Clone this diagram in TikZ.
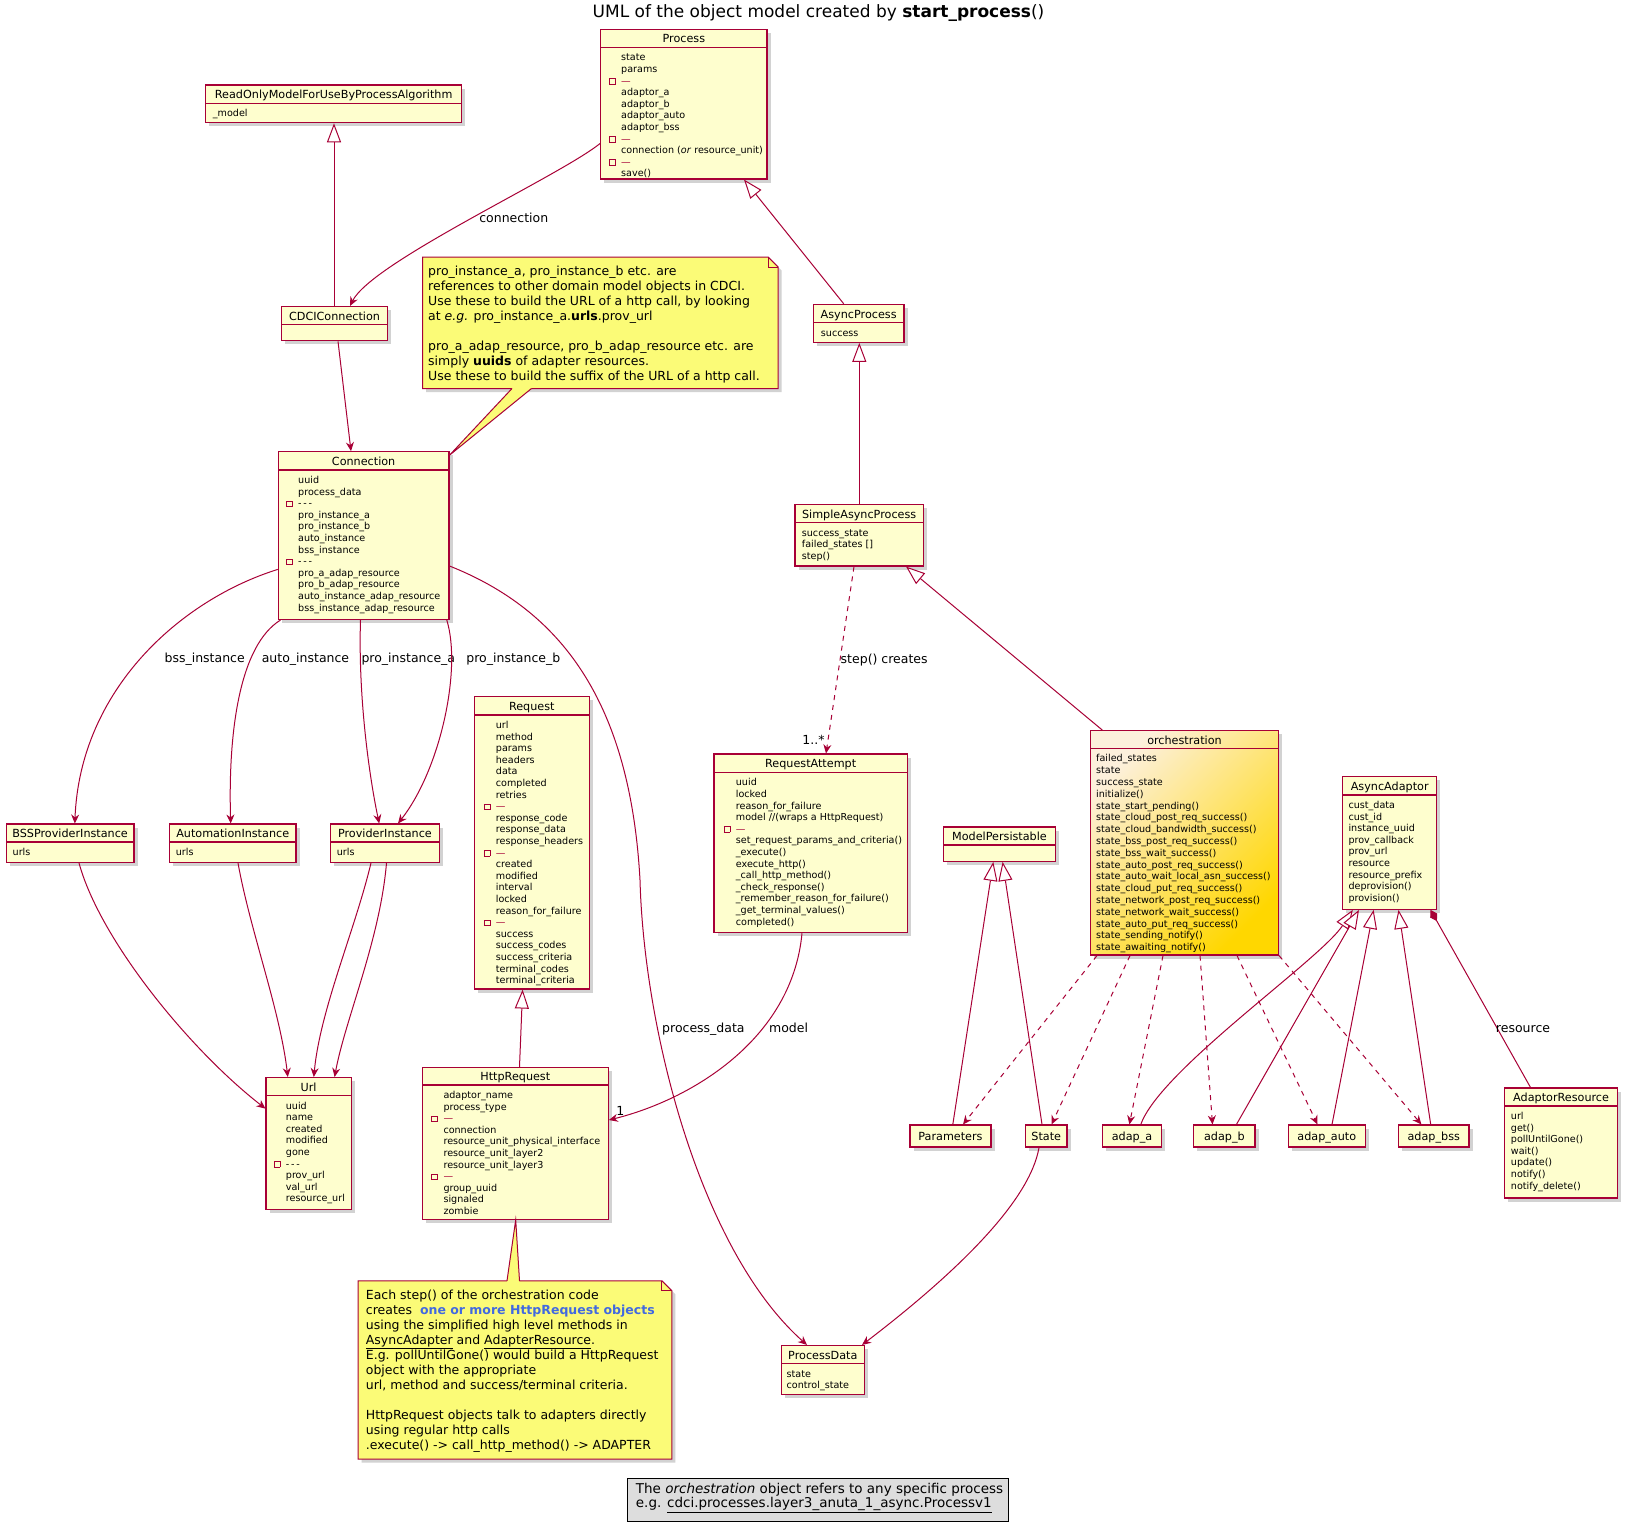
\documentclass[tikz,border=0pt]{standalone}
\usepackage{fontspec}
\setmainfont{DejaVu Sans}
\usetikzlibrary{arrows.meta,shadows,fit,calc}
\definecolor{umlred}{HTML}{A80036}
\definecolor{classfill}{HTML}{FEFECE}
\definecolor{notefill}{HTML}{FBFB77}
\definecolor{legendfill}{HTML}{DDDDDD}
\definecolor{noteblue}{HTML}{4169E1}
\definecolor{orchtop}{HTML}{FDF0DC}
\definecolor{orchbot}{HTML}{FFD700}
\newcommand{\umlbodyfont}{\fontsize{9.6}{11.6}\selectfont}
\newcommand{\umlheadfont}{\fontsize{11.2}{13}\selectfont}
\newcommand{\umlnotefont}{\fontsize{12.5}{15}\selectfont}
\newcommand{\umllabelfont}{\fontsize{12.5}{15}\selectfont}
\newcommand{\umltitlefont}{\fontsize{17}{20}\selectfont}
\newcommand{\umllegendfont}{\fontsize{13.5}{14.3}\selectfont}
\newcommand{\vismark}{\llap{\raisebox{0.3pt}{\textcolor{umlred}{\fboxsep=0pt\fboxrule=0.7pt\fbox{\rule{0pt}{5.2pt}\rule{5.2pt}{0pt}}}}\hspace{5.5pt}}}
\newcommand{\reddash}{\vismark\textcolor{umlred}{—}}
\newcommand{\tripledash}{\vismark-\hspace{1.8pt}-\hspace{1.8pt}-}
\tikzset{
 shadowed/.style={drop shadow={shadow xshift=3.5pt,shadow yshift=-3.5pt,opacity=0.25,fill=black!70}},
 classbox/.style={draw=umlred, line width=1.1pt, fill=classfill, inner sep=0pt, shadowed},
 umlline/.style={draw=umlred, line width=1pt},
 assoc/.style={umlline, -{Stealth[length=9pt,width=8pt,inset=3pt]}},
 dep/.style={assoc, dash pattern=on 5pt off 5pt},
 inh/.style={umlline, -{Triangle[length=19pt,width=14pt,fill=white]}},
 comp/.style={umlline, {Diamond[length=13pt,width=8pt]}-},
 headtext/.style={font=\umlheadfont, anchor=base, inner sep=0pt},
 bodytext/.style={font=\umlbodyfont, anchor=north west, inner sep=0pt, align=left},
 edgelabel/.style={font=\umllabelfont, inner sep=0pt, anchor=base},
 notebox/.style={fill=notefill, draw=umlred, line width=1pt, shadowed},
 notetext/.style={font=\umlnotefont, anchor=north west, inner sep=0pt, align=left},
}
% name, x1, y1, x2, y2, separator y, title, text x, body
\newcommand{\umlclass}[9]{%
 \node[classbox, fit={(#2,#3) (#4,#5)}] (#1) {};
 \draw[umlred, line width=1.1pt] (#2,#6) -- (#4,#6);
 \node[headtext] at ({(#2+#4)/2},{(#3+#6)/2+4.6}) {#7};
 \node[bodytext] at (#8,{#6+4.3}) {\rule{0pt}{9pt}#9};
}
\newcommand{\umlhead}[6]{%
 \node[classbox, fit={(#2,#3) (#4,#5)}] (#1) {};
 \node[headtext] at ({(#2+#4)/2},{(#3+#5)/2+4.1}) {#6};
}
\begin{document}
\begin{tikzpicture}[x=1pt,y=-1pt]
\useasboundingbox (0,0) rectangle (1629,1531);
\fill[white] (0,0) rectangle (1629,1531);

\node[font=\umltitlefont, anchor=base, inner sep=0pt] (title) at (818.5,17.3) {UML of the object model created by \textbf{start\_process}()};

% ---------- classes ----------
\umlclass{process}{600.7}{29.3}{767}{179}{47.3}{Process}{621}{state\\params\\\reddash\\adaptor\_a\\adaptor\_b\\adaptor\_auto\\adaptor\_bss\\\reddash\\connection (\textit{or} resource\_unit)\\\reddash\\save()}
\umlclass{readonly}{205.7}{85}{461.7}{122.7}{103.3}{ReadOnlyModelForUseByProcessAlgorithm}{212.7}{\_model}
\umlclass{cdci}{281.6}{306.5}{387.5}{340.8}{324.5}{CDCIConnection}{287}{}
\umlclass{conn}{278.3}{451.7}{449}{619.5}{470}{Connection}{298}{uuid\\process\_data\\\tripledash\\pro\_instance\_a\\pro\_instance\_b\\auto\_instance\\bss\_instance\\\tripledash\\pro\_a\_adap\_resource\\pro\_b\_adap\_resource\\auto\_instance\_adap\_resource\\bss\_instance\_adap\_resource}
\umlclass{asyncproc}{813.3}{304.3}{904}{342.3}{322.7}{AsyncProcess}{820.7}{success}
\umlclass{simpleasync}{795}{504.3}{923.3}{566}{522.7}{SimpleAsyncProcess}{801.7}{success\_state\\failed\_states []\\step()}
\umlclass{request}{474.3}{696.7}{589.3}{989}{715}{Request}{495.7}{url\\method\\params\\headers\\data\\completed\\retries\\\reddash\\response\_code\\response\_data\\response\_headers\\\reddash\\created\\modified\\interval\\locked\\reason\_for\_failure\\\reddash\\success\\success\_codes\\success\_criteria\\terminal\_codes\\terminal\_criteria}
\umlclass{reqatt}{714}{754}{907.3}{932.7}{772.3}{RequestAttempt}{735.7}{uuid\\locked\\reason\_for\_failure\\model //(wraps a HttpRequest)\\\reddash\\set\_request\_params\_and\_criteria()\\\_execute()\\execute\_http()\\\_call\_http\_method()\\\_check\_response()\\\_remember\_reason\_for\_failure()\\\_get\_terminal\_values()\\completed()}

\node[draw=umlred, line width=1.1pt, inner sep=0pt, fit={(1090.7,730.7) (1278.3,955)}, top color=orchtop, bottom color=orchbot, shading angle=45, shadowed] (orch) {};
\draw[umlred, line width=1.1pt] (orch.west |- 0,748.3) -- (orch.east |- 0,748.3);
\node[headtext] (orchtitle) at (1184.5,744) {orchestration};
\node[bodytext, font=\fontsize{9.6}{11.8}\selectfont] (orchbody) at (1096,752.6) {\rule{0pt}{9pt}failed\_states\\state\\success\_state\\initialize()\\state\_start\_pending()\\state\_cloud\_post\_req\_success()\\state\_cloud\_bandwidth\_success()\\state\_bss\_post\_req\_success()\\state\_bss\_wait\_success()\\state\_auto\_post\_req\_success()\\state\_auto\_wait\_local\_asn\_success()\\state\_cloud\_put\_req\_success()\\state\_network\_post\_req\_success()\\state\_network\_wait\_success()\\state\_auto\_put\_req\_success()\\state\_sending\_notify()\\state\_awaiting\_notify()};

\umlclass{asyncadap}{1342.7}{776.7}{1436.7}{909.3}{795}{AsyncAdaptor}{1348.3}{cust\_data\\cust\_id\\instance\_uuid\\prov\_callback\\prov\_url\\resource\\resource\_prefix\\deprovision()\\provision()}
\umlclass{httpreq}{422.3}{1067.3}{608.3}{1219.3}{1085}{HttpRequest}{443.3}{adaptor\_name\\process\_type\\\reddash\\connection\\resource\_unit\_physical\_interface\\resource\_unit\_layer2\\resource\_unit\_layer3\\\reddash\\group\_uuid\\signaled\\zombie}
\umlclass{bss}{6.2}{824}{134}{862.4}{842}{BSSProviderInstance}{12.5}{urls}
\umlclass{autoinst}{169.4}{824}{296}{862.4}{842}{AutomationInstance}{175.6}{urls}
\umlclass{provinst}{330.4}{824}{439.5}{862.4}{842}{ProviderInstance}{336.6}{urls}
\umlclass{url}{266}{1077.5}{351.2}{1209.4}{1095.5}{Url}{285.7}{uuid\\name\\created\\modified\\gone\\\tripledash\\prov\_url\\val\_url\\resource\_url}
\umlclass{modelpers}{943.4}{827}{1055.6}{861.3}{845}{ModelPersistable}{949}{}
\umlhead{params}{910}{1125}{991}{1147}{Parameters}
\umlhead{state}{1025.5}{1125}{1067}{1147}{State}
\umlhead{adapa}{1102.4}{1125}{1161.6}{1147}{adap\_a}
\umlhead{adapb}{1193.8}{1125}{1255}{1147}{adap\_b}
\umlhead{adapauto}{1288.4}{1125}{1365.2}{1147}{adap\_auto}
\umlhead{adapbss}{1398.5}{1125}{1469}{1147}{adap\_bss}
\umlclass{adapres}{1504.5}{1088}{1617.7}{1198}{1106}{AdaptorResource}{1510.7}{url\\get()\\pollUntilGone()\\wait()\\update()\\notify()\\notify\_delete()}
\umlclass{procdata}{781.3}{1345.5}{864.4}{1394.3}{1363.5}{ProcessData}{786.5}{state\\control\_state}

% ---------- notes ----------
\node[fit={(422.7,257.3) (778,388.3)}, inner sep=0pt] (note1) {};
\path[notebox] (note1.south west) -- (note1.north west) -- ([xshift=-10pt]note1.north east) -- ([yshift=-10pt]note1.north east) -- (note1.south east) -- cycle;
\draw[umlline] ([xshift=-10pt]note1.north east) -- ([xshift=-10pt,yshift=-10pt]note1.north east) -- ([yshift=-10pt]note1.north east);
\node[notetext] (note1text) at (428,265) {\rule{0pt}{10pt}pro\_instance\_a, pro\_instance\_b etc. are\\references to other domain model objects in CDCI.\\Use these to build the URL of a http call, by looking\\at \textit{e.g.} pro\_instance\_a.\textbf{urls}.prov\_url\\\mbox{}\\pro\_a\_adap\_resource, pro\_b\_adap\_resource etc. are\\simply \textbf{uuids} of adapter resources.\\Use these to build the suffix of the URL of a http call.};
\coordinate (w1tip) at ($(conn.north east)+(0,4)$);
\fill[notefill] (w1tip) -- (512,0 |- note1.south) -- (512.6,387) -- (530.9,387) -- (531.5,0 |- note1.south) -- cycle;
\draw[umlline] (512,0 |- note1.south) -- (w1tip) -- (531.5,0 |- note1.south);

\node[fit={(358.3,1281) (671.7,1459)}, inner sep=0pt] (note2) {};
\path[notebox] (note2.south west) -- (note2.north west) -- ([xshift=-10pt]note2.north east) -- ([yshift=-10pt]note2.north east) -- (note2.south east) -- cycle;
\draw[umlline] ([xshift=-10pt]note2.north east) -- ([xshift=-10pt,yshift=-10pt]note2.north east) -- ([yshift=-10pt]note2.north east);
\node[notetext] (note2text) at (365.7,1289) {\rule{0pt}{10pt}Each step() of the orchestration code\\creates \ \textcolor{noteblue}{\textbf{one or more HttpRequest objects}}\\using the simplified high level methods in\\\underline{AsyncAdapter} and \underline{AdapterResource}.\\E.g. pollUntilGone() would build a HttpRequest\\object with the appropriate\\url, method and success/terminal criteria.\\\mbox{}\\HttpRequest objects talk to adapters directly\\using regular http calls\\.execute() -> call\_http\_method() -> ADAPTER};
\coordinate (w2tip) at (515.7,0 |- httpreq.south);
\fill[notefill] (w2tip) -- (507,0 |- note2.north) -- (507.6,1282.5) -- (518.9,1282.5) -- (519.5,0 |- note2.north) -- cycle;
\draw[umlline] (507,0 |- note2.north) -- (w2tip) -- (519.5,0 |- note2.north);

% ---------- legend ----------
\node[fit={(627.5,1478.5) (1008,1521)}, inner sep=0pt, draw=black, line width=1pt, fill=legendfill] (legend) {};
\node[font=\umllegendfont, anchor=north west, inner sep=0pt, align=left] (legendtext) at (635.7,1482.8) {\rule{0pt}{10.5pt}The \textit{orchestration} object refers to any specific process\\e.g. \underline{cdci.processes.layer3\_anuta\_1\_async.Processv1}};

% ---------- connectors ----------
\draw[assoc] (process.west |- 0,143.4) .. controls (560,176) and (372,262) .. (350,0 |- cdci.north);
\node[edgelabel] (lconnection) at (513.8,222) {connection};
\draw[inh] (334,0 |- cdci.north) -- (334,0 |- readonly.south);
\draw[assoc] (338,0 |- cdci.south) -- (351,0 |- conn.north);
\draw[inh] (843.7,0 |- asyncproc.north) -- (744,0 |- process.south);
\draw[inh] (859.3,0 |- simpleasync.north) -- (859.3,0 |- asyncproc.south);
\draw[inh] (1102.4,0 |- orch.north) -- (906,0 |- simpleasync.south);
\draw[dep] (854,0 |- simpleasync.south) -- (826,0 |- reqatt.north);
\node[edgelabel] (lstep) at (884.2,663) {step() creates};
\node[edgelabel] (lmult1) at (813.5,744) {1..*};
\draw[assoc] (802,0 |- reqatt.south) .. controls (792,1040) and (690,1100) .. (httpreq.east |- 0,1120);
\node[edgelabel] (lmodel) at (788.6,1032.6) {model};
\node[edgelabel] (lmult2) at (620.3,1115.7) {1};
\draw[assoc] (conn.east |- 0,566) .. controls (560,610) and (630,700) .. (640,880) .. controls (644,1030) and (700,1250) .. (807,0 |- procdata.north);
\node[edgelabel] (lprocdata) at (703.4,1032.6) {process\_data};
\draw[assoc] (conn.west |- 0,569.4) .. controls (180,600) and (80,690) .. (74.8,0 |- bss.north);
\node[edgelabel] (lbss) at (204.7,662.7) {bss\_instance};
\draw[assoc] (280.5,0 |- conn.south) .. controls (240,645) and (228,730) .. (230.7,0 |- autoinst.north);
\node[edgelabel] (lauto) at (305.5,662.7) {auto\_instance};
\draw[assoc] (360.5,0 |- conn.south) .. controls (358,700) and (370,780) .. (379.2,0 |- provinst.north);
\node[edgelabel] (lproa) at (408.3,662.7) {pro\_instance\_a};
\draw[assoc] (446.8,0 |- conn.south) .. controls (462,670) and (440,770) .. (398,0 |- provinst.north);
\node[edgelabel] (lprob) at (513.3,662.7) {pro\_instance\_b};
\draw[assoc] (79,0 |- bss.south) .. controls (100,940) and (190,1050) .. (url.west |- 0,1108.6);
\draw[assoc] (238,0 |- autoinst.south) .. controls (250,930) and (280,1010) .. (287.8,0 |- url.north);
\draw[assoc] (371,0 |- provinst.south) .. controls (355,930) and (320,1010) .. (313.8,0 |- url.north);
\draw[assoc] (386.5,0 |- provinst.south) .. controls (380,940) and (345,1020) .. (334.6,0 |- url.north);
\draw[inh] (519.5,0 |- httpreq.north) -- (522.6,0 |- request.south);
\draw[dep] (1097,0 |- orch.south) -- (963,0 |- params.north);
\draw[dep] (1130,0 |- orch.south) -- (1051.5,0 |- state.north);
\draw[dep] (1163,0 |- orch.south) -- (1129.4,0 |- adapa.north);
\draw[dep] (1200,0 |- orch.south) -- (1212.5,0 |- adapb.north);
\draw[dep] (1237,0 |- orch.south) -- (1317.5,0 |- adapauto.north);
\draw[dep] (1279,0 |- orch.south) -- (1421.4,0 |- adapbss.north);
\draw[inh] (952.8,0 |- params.north) -- (993.3,0 |- modelpers.south);
\draw[inh] (1042,0 |- state.north) -- (1002.6,0 |- modelpers.south);
\draw[inh] (1140.8,0 |- adapa.north) .. controls (1160,1070) and (1320,960) .. (1352.8,0 |- asyncadap.south);
\draw[inh] (1236.4,0 |- adapb.north) -- (1359,0 |- asyncadap.south);
\draw[inh] (1332,0 |- adapauto.north) -- (1373.6,0 |- asyncadap.south);
\draw[inh] (1430.7,0 |- adapbss.north) -- (1398.5,0 |- asyncadap.south);
\draw[comp] (1430.5,0 |- asyncadap.south) -- (1530.5,0 |- adapres.north);
\node[edgelabel] (lresource) at (1523,1032.6) {resource};
\draw[assoc] (1039,0 |- state.south) .. controls (1030,1200) and (960,1270) .. (862,0 |- procdata.north);
\end{tikzpicture}
\end{document}
